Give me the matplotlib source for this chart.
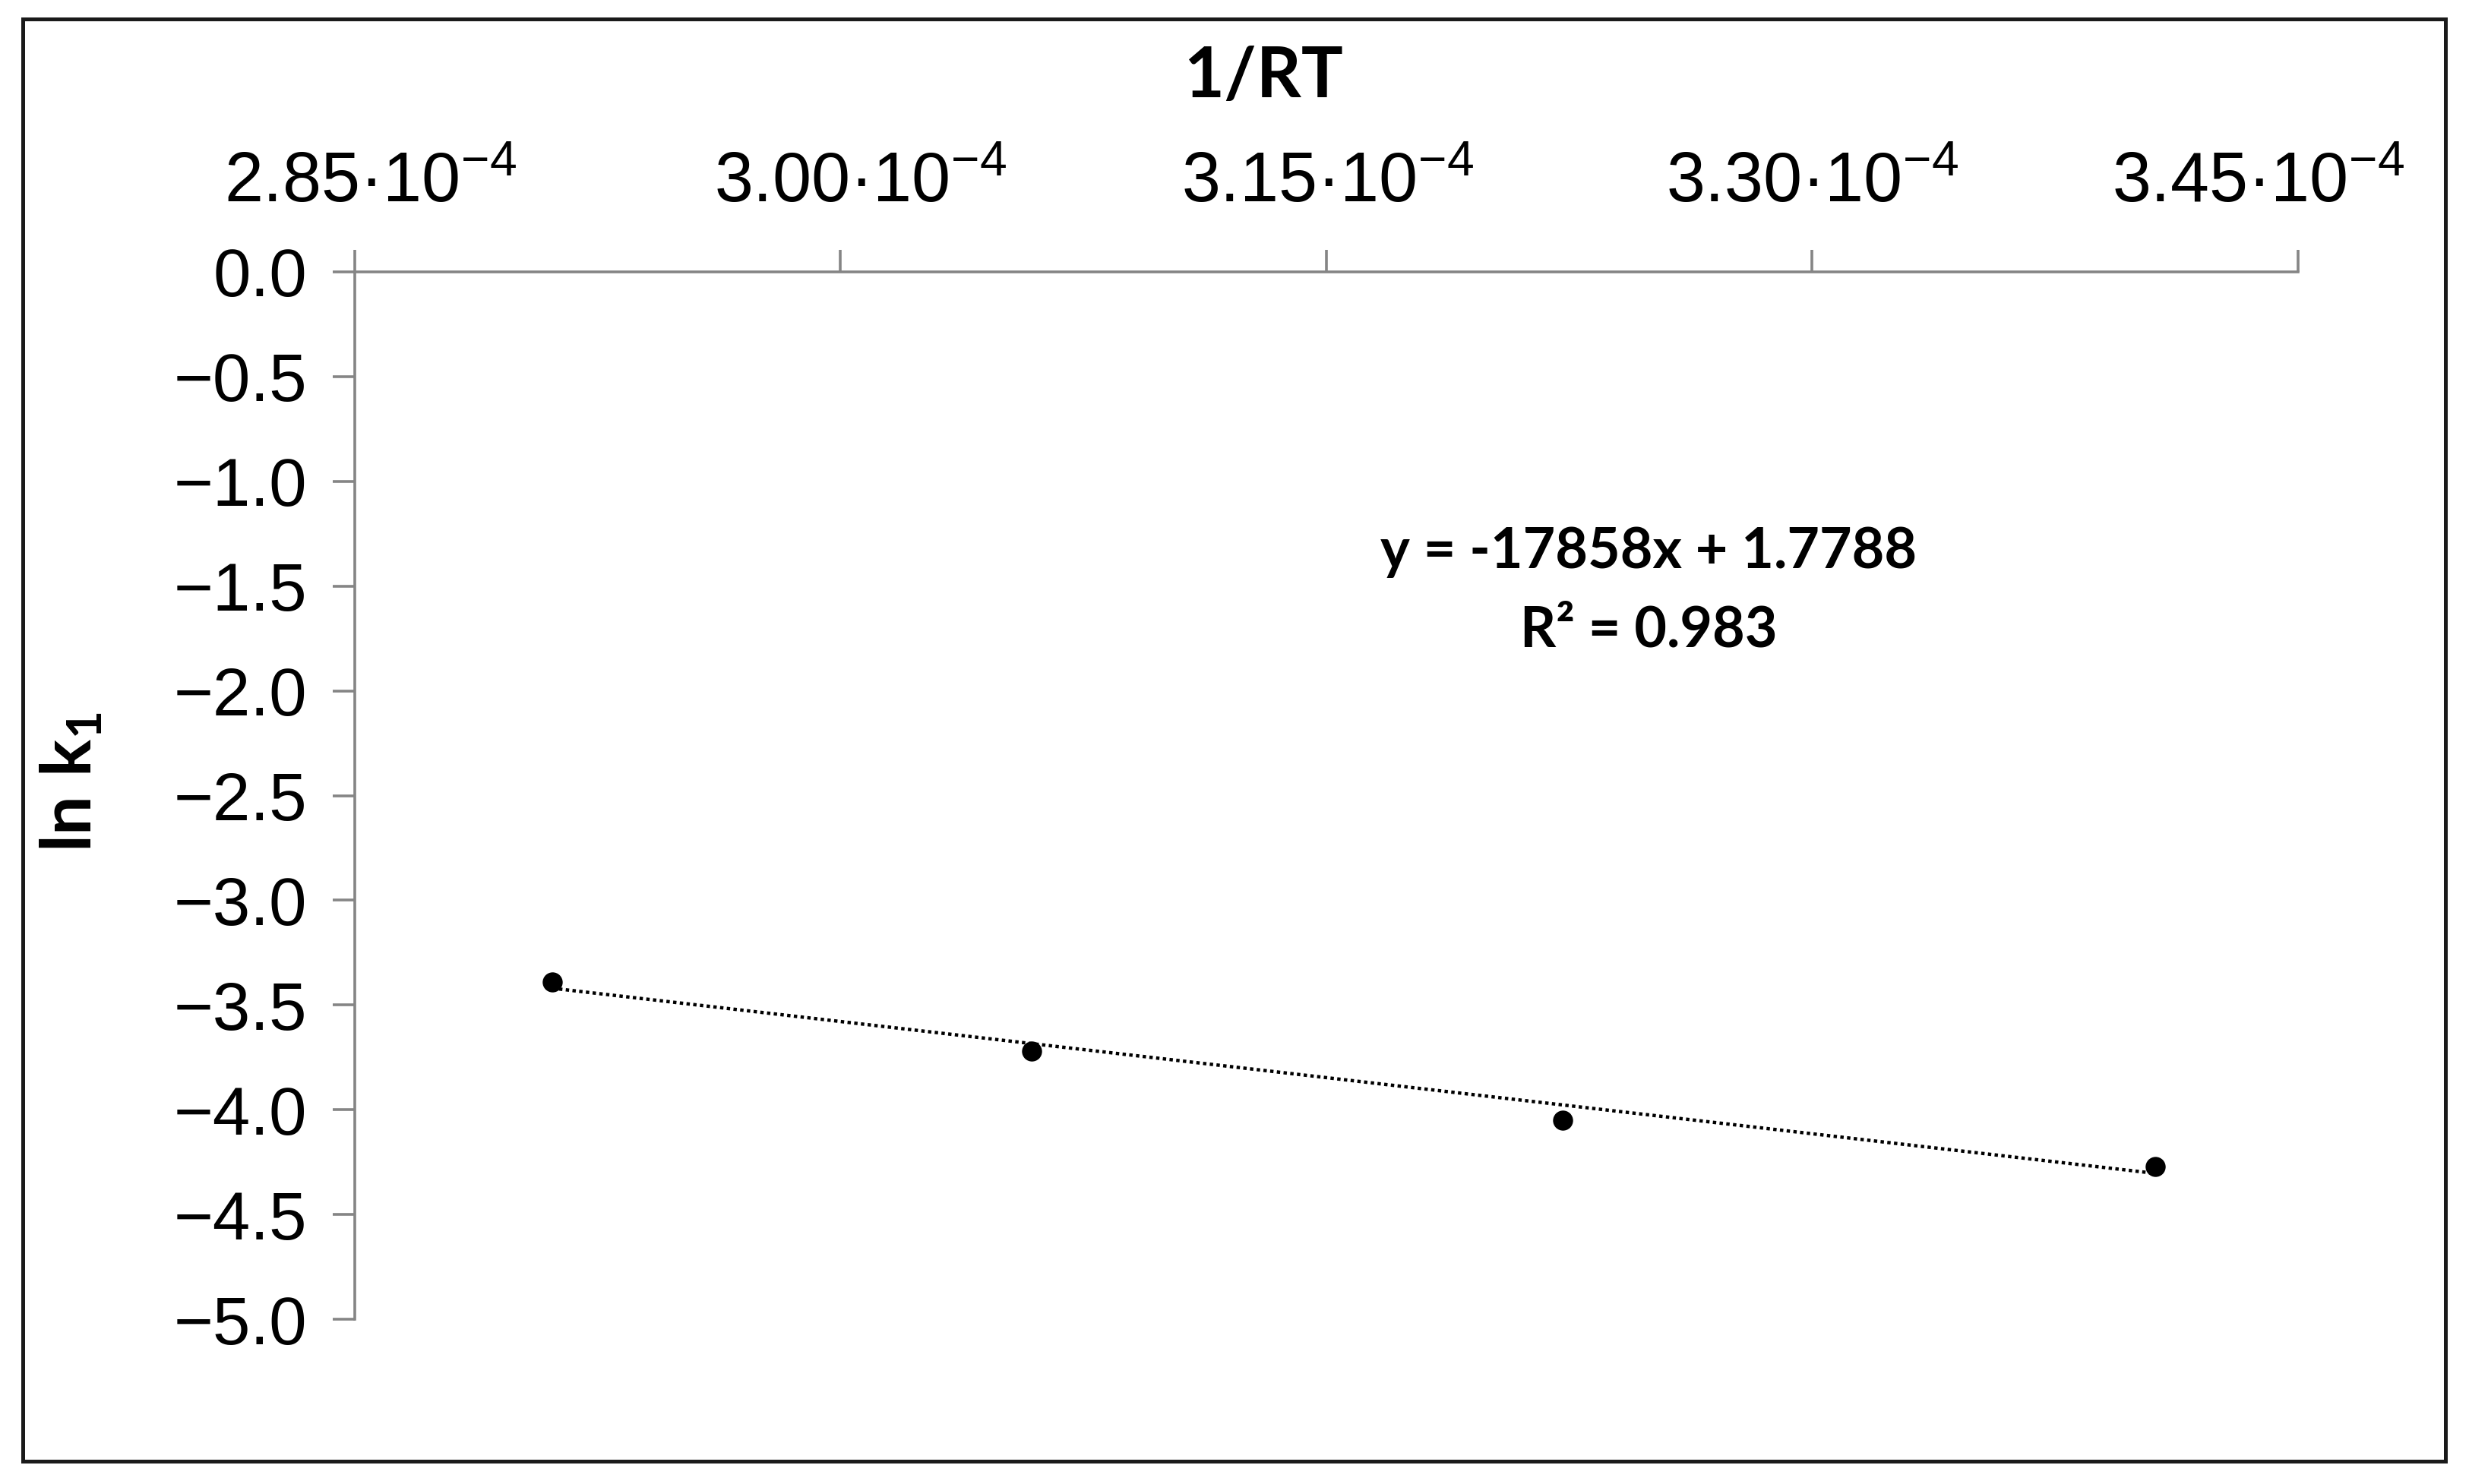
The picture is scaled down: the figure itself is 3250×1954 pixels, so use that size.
import matplotlib
matplotlib.use("Agg")
import matplotlib.pyplot as plt
from matplotlib.patches import Rectangle
from matplotlib.transforms import ScaledTranslation
import numpy as np

plt.rcParams["font.family"] = ["Liberation Sans", "DejaVu Sans"]
plt.rcParams["mathtext.fontset"] = "custom"
plt.rcParams["mathtext.rm"] = "Liberation Sans"
plt.rcParams["mathtext.it"] = "Liberation Sans:italic"
plt.rcParams["mathtext.bf"] = "Lato:bold"

# données : 1/RT (mol/J) et ln k1
inv_rt = [2.911e-4, 3.059e-4, 3.223e-4, 3.406e-4]
ln_k1 = [-3.39, -3.72, -4.05, -4.27]

# droite de tendance affichée
slope = -17858
intercept = 1.7788
r2 = 0.983

x_ticks = [2.85e-4, 3.00e-4, 3.15e-4, 3.30e-4, 3.45e-4]
x_tick_labels = [r"$2.85{·}10^{-4}$", r"$3.00{·}10^{-4}$", r"$3.15{·}10^{-4}$",
                 r"$3.30{·}10^{-4}$", r"$3.45{·}10^{-4}$"]
y_ticks = [0.0, -0.5, -1.0, -1.5, -2.0, -2.5, -3.0, -3.5, -4.0, -4.5, -5.0]

AX_GREY = "#858585"
# décalage horizontal des étiquettes (pouces) : elles ne sont pas centrées sur les ticks
label_shift = [0.10, 0.13, 0.01, 0.0, -0.26]

fig = plt.figure(figsize=(16.25, 9.77), dpi=200)
ax = fig.add_axes([0.1437, 0.111, 0.9307 - 0.1437, 0.8168 - 0.111])

x_fit = np.array([inv_rt[0], inv_rt[-1]])
ax.plot(x_fit, slope * x_fit + intercept, color="black", lw=1.6,
        linestyle=(0, (1, 1)), zorder=2)
ax.plot(inv_rt, ln_k1, "o", color="black", ms=8.5, zorder=3)

ax.set_xlim(x_ticks[0], x_ticks[-1])
ax.set_ylim(-5.0, 0.0)
ax.xaxis.tick_top()
ax.xaxis.set_label_position("top")
ax.set_xticks(x_ticks)
ax.set_xticklabels(x_tick_labels)
ax.set_yticks(y_ticks)
ax.set_yticklabels([f"{v:.1f}".replace("-", "\u2212") for v in y_ticks])

for side in ("right", "bottom"):
    ax.spines[side].set_visible(False)
for side in ("left", "top"):
    ax.spines[side].set_color(AX_GREY)
    ax.spines[side].set_linewidth(1.3)
ax.tick_params(axis="both", direction="out", length=10.5, width=1.3,
               color=AX_GREY, labelsize=32, labelcolor="black")
ax.tick_params(axis="x", pad=16, labelsize=33)
ax.tick_params(axis="y", pad=12)

for tick, dx in zip(ax.xaxis.get_major_ticks(), label_shift):
    lbl = tick.label2
    lbl.set_transform(lbl.get_transform() + ScaledTranslation(dx, 0, fig.dpi_scale_trans))

ax.set_xlabel("1/RT", fontfamily="Lato", fontweight="bold", fontsize=33)
ax.xaxis.set_label_coords(0.4676, 1.167)
ax.set_ylabel(r"$\mathbf{ln\ k_{1}}$", fontsize=33)
ax.yaxis.set_label_coords(-0.128, 0.513)

ax.text(0.666, 0.733, f"y = {slope}x + {intercept}", transform=ax.transAxes,
        ha="center", va="center", fontfamily="Lato", fontweight="bold", fontsize=26.5)
ax.text(0.666, 0.658, f"R² = {r2}", transform=ax.transAxes,
        ha="center", va="center", fontfamily="Lato", fontweight="bold", fontsize=26.5)

# cadre noir autour de la figure
fig.add_artist(Rectangle((0.0092, 0.0154), 0.9905 - 0.0092, 0.987 - 0.0154,
                         transform=fig.transFigure, fill=False, lw=1.8,
                         edgecolor="#1a1a1a"))

fig.savefig("out.png", dpi=200, facecolor="white")
